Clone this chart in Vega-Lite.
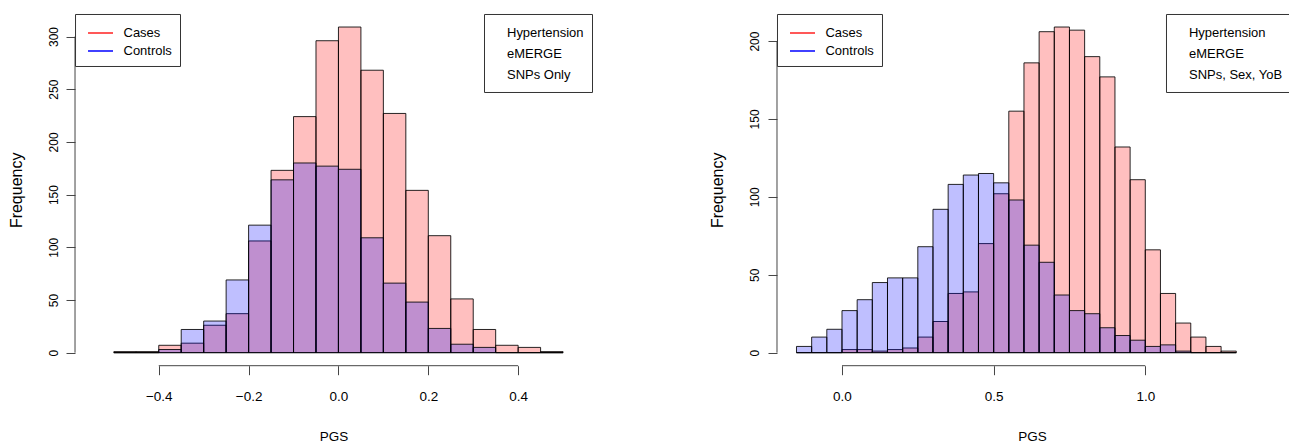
{
  "$schema": "https://vega.github.io/schema/vega-lite/v6.json",
  "background": "white",
  "padding": {"left": 8, "top": 13, "right": 0, "bottom": 0},
  "spacing": 117,
  "datasets": {
    "left": [
      {"group": "Cases", "x0": -0.50, "x1": -0.45, "count": 1},
      {"group": "Cases", "x0": -0.45, "x1": -0.40, "count": 1},
      {"group": "Cases", "x0": -0.40, "x1": -0.35, "count": 7},
      {"group": "Cases", "x0": -0.35, "x1": -0.30, "count": 9},
      {"group": "Cases", "x0": -0.30, "x1": -0.25, "count": 26},
      {"group": "Cases", "x0": -0.25, "x1": -0.20, "count": 37},
      {"group": "Cases", "x0": -0.20, "x1": -0.15, "count": 106},
      {"group": "Cases", "x0": -0.15, "x1": -0.10, "count": 173},
      {"group": "Cases", "x0": -0.10, "x1": -0.05, "count": 224},
      {"group": "Cases", "x0": -0.05, "x1": 0.00, "count": 296},
      {"group": "Cases", "x0": 0.00, "x1": 0.05, "count": 309},
      {"group": "Cases", "x0": 0.05, "x1": 0.10, "count": 268},
      {"group": "Cases", "x0": 0.10, "x1": 0.15, "count": 227},
      {"group": "Cases", "x0": 0.15, "x1": 0.20, "count": 154},
      {"group": "Cases", "x0": 0.20, "x1": 0.25, "count": 111},
      {"group": "Cases", "x0": 0.25, "x1": 0.30, "count": 51},
      {"group": "Cases", "x0": 0.30, "x1": 0.35, "count": 22},
      {"group": "Cases", "x0": 0.35, "x1": 0.40, "count": 7},
      {"group": "Cases", "x0": 0.40, "x1": 0.45, "count": 5},
      {"group": "Cases", "x0": 0.45, "x1": 0.50, "count": 1},
      {"group": "Controls", "x0": -0.50, "x1": -0.45, "count": 0},
      {"group": "Controls", "x0": -0.45, "x1": -0.40, "count": 0},
      {"group": "Controls", "x0": -0.40, "x1": -0.35, "count": 3},
      {"group": "Controls", "x0": -0.35, "x1": -0.30, "count": 22},
      {"group": "Controls", "x0": -0.30, "x1": -0.25, "count": 30},
      {"group": "Controls", "x0": -0.25, "x1": -0.20, "count": 69},
      {"group": "Controls", "x0": -0.20, "x1": -0.15, "count": 121},
      {"group": "Controls", "x0": -0.15, "x1": -0.10, "count": 164},
      {"group": "Controls", "x0": -0.10, "x1": -0.05, "count": 180},
      {"group": "Controls", "x0": -0.05, "x1": 0.00, "count": 177},
      {"group": "Controls", "x0": 0.00, "x1": 0.05, "count": 174},
      {"group": "Controls", "x0": 0.05, "x1": 0.10, "count": 109},
      {"group": "Controls", "x0": 0.10, "x1": 0.15, "count": 66},
      {"group": "Controls", "x0": 0.15, "x1": 0.20, "count": 48},
      {"group": "Controls", "x0": 0.20, "x1": 0.25, "count": 23},
      {"group": "Controls", "x0": 0.25, "x1": 0.30, "count": 8},
      {"group": "Controls", "x0": 0.30, "x1": 0.35, "count": 5},
      {"group": "Controls", "x0": 0.35, "x1": 0.40, "count": 0},
      {"group": "Controls", "x0": 0.40, "x1": 0.45, "count": 0},
      {"group": "Controls", "x0": 0.45, "x1": 0.50, "count": 0}
    ],
    "right": [
      {"group": "Cases", "x0": -0.15, "x1": -0.10, "count": 0},
      {"group": "Cases", "x0": -0.10, "x1": -0.05, "count": 0},
      {"group": "Cases", "x0": -0.05, "x1": 0.00, "count": 0},
      {"group": "Cases", "x0": 0.00, "x1": 0.05, "count": 2},
      {"group": "Cases", "x0": 0.05, "x1": 0.10, "count": 2},
      {"group": "Cases", "x0": 0.10, "x1": 0.15, "count": 1},
      {"group": "Cases", "x0": 0.15, "x1": 0.20, "count": 2},
      {"group": "Cases", "x0": 0.20, "x1": 0.25, "count": 3},
      {"group": "Cases", "x0": 0.25, "x1": 0.30, "count": 10},
      {"group": "Cases", "x0": 0.30, "x1": 0.35, "count": 20},
      {"group": "Cases", "x0": 0.35, "x1": 0.40, "count": 38},
      {"group": "Cases", "x0": 0.40, "x1": 0.45, "count": 39},
      {"group": "Cases", "x0": 0.45, "x1": 0.50, "count": 70},
      {"group": "Cases", "x0": 0.50, "x1": 0.55, "count": 102},
      {"group": "Cases", "x0": 0.55, "x1": 0.60, "count": 155},
      {"group": "Cases", "x0": 0.60, "x1": 0.65, "count": 186},
      {"group": "Cases", "x0": 0.65, "x1": 0.70, "count": 206},
      {"group": "Cases", "x0": 0.70, "x1": 0.75, "count": 209},
      {"group": "Cases", "x0": 0.75, "x1": 0.80, "count": 207},
      {"group": "Cases", "x0": 0.80, "x1": 0.85, "count": 190},
      {"group": "Cases", "x0": 0.85, "x1": 0.90, "count": 177},
      {"group": "Cases", "x0": 0.90, "x1": 0.95, "count": 132},
      {"group": "Cases", "x0": 0.95, "x1": 1.00, "count": 111},
      {"group": "Cases", "x0": 1.00, "x1": 1.05, "count": 66},
      {"group": "Cases", "x0": 1.05, "x1": 1.10, "count": 38},
      {"group": "Cases", "x0": 1.10, "x1": 1.15, "count": 19},
      {"group": "Cases", "x0": 1.15, "x1": 1.20, "count": 10},
      {"group": "Cases", "x0": 1.20, "x1": 1.25, "count": 4},
      {"group": "Cases", "x0": 1.25, "x1": 1.30, "count": 1},
      {"group": "Controls", "x0": -0.15, "x1": -0.10, "count": 4},
      {"group": "Controls", "x0": -0.10, "x1": -0.05, "count": 10},
      {"group": "Controls", "x0": -0.05, "x1": 0.00, "count": 15},
      {"group": "Controls", "x0": 0.00, "x1": 0.05, "count": 27},
      {"group": "Controls", "x0": 0.05, "x1": 0.10, "count": 34},
      {"group": "Controls", "x0": 0.10, "x1": 0.15, "count": 45},
      {"group": "Controls", "x0": 0.15, "x1": 0.20, "count": 48},
      {"group": "Controls", "x0": 0.20, "x1": 0.25, "count": 48},
      {"group": "Controls", "x0": 0.25, "x1": 0.30, "count": 68},
      {"group": "Controls", "x0": 0.30, "x1": 0.35, "count": 92},
      {"group": "Controls", "x0": 0.35, "x1": 0.40, "count": 108},
      {"group": "Controls", "x0": 0.40, "x1": 0.45, "count": 114},
      {"group": "Controls", "x0": 0.45, "x1": 0.50, "count": 115},
      {"group": "Controls", "x0": 0.50, "x1": 0.55, "count": 109},
      {"group": "Controls", "x0": 0.55, "x1": 0.60, "count": 98},
      {"group": "Controls", "x0": 0.60, "x1": 0.65, "count": 69},
      {"group": "Controls", "x0": 0.65, "x1": 0.70, "count": 58},
      {"group": "Controls", "x0": 0.70, "x1": 0.75, "count": 37},
      {"group": "Controls", "x0": 0.75, "x1": 0.80, "count": 27},
      {"group": "Controls", "x0": 0.80, "x1": 0.85, "count": 25},
      {"group": "Controls", "x0": 0.85, "x1": 0.90, "count": 16},
      {"group": "Controls", "x0": 0.90, "x1": 0.95, "count": 11},
      {"group": "Controls", "x0": 0.95, "x1": 1.00, "count": 8},
      {"group": "Controls", "x0": 1.00, "x1": 1.05, "count": 4},
      {"group": "Controls", "x0": 1.05, "x1": 1.10, "count": 5},
      {"group": "Controls", "x0": 1.10, "x1": 1.15, "count": 1},
      {"group": "Controls", "x0": 1.15, "x1": 1.20, "count": 0},
      {"group": "Controls", "x0": 1.20, "x1": 1.25, "count": 0},
      {"group": "Controls", "x0": 1.25, "x1": 1.30, "count": 0}
    ],
    "notesL": [{"note": "Hypertension"}, {"note": "eMERGE"}, {"note": "SNPs Only"}],
    "notesR": [{"note": "Hypertension"}, {"note": "eMERGE"}, {"note": "SNPs, Sex, YoB"}]
  },
  "config": {
    "view": {"stroke": null},
    "axis": {"grid": false, "domain": false, "tickColor": "#444", "tickSize": 9, "tickWidth": 1, "labelColor": "#000", "titleColor": "#000", "labelFlush": false, "titleFontWeight": "normal", "labelFont": "Liberation Sans, Arial, sans-serif", "titleFont": "Liberation Sans, Arial, sans-serif"},
    "axisX": {"labelFontSize": 13.5, "labelPadding": 15, "titleFontSize": 13.5, "titlePadding": 26},
    "axisY": {"labelAngle": 270, "labelAlign": "center", "labelBaseline": "bottom", "labelFontSize": 12, "labelPadding": 6, "titleFontSize": 16, "titlePadding": 23},
    "legend": {"labelFont": "Liberation Sans, Arial, sans-serif", "labelFontSize": 13, "labelColor": "#000", "strokeColor": "#333", "fillColor": "#fff", "orient": "none", "direction": "vertical", "padding": 8, "rowPadding": 0, "symbolSize": 400, "title": null}
  },
  "resolve": {
    "scale": {"fill": "independent", "stroke": "independent", "shape": "independent"},
    "legend": {"fill": "independent", "stroke": "independent", "shape": "independent"}
  },
  "hconcat": [
    {
      "width": 517,
      "height": 351.7,
      "layer": [
        {
          "data": {"name": "left"},
          "mark": {"type": "bar", "fillOpacity": 0.25, "stroke": "#000", "strokeWidth": 1, "strokeOpacity": 0.85},
          "encoding": {
            "x": {"field": "x0", "type": "quantitative", "scale": {"domain": [-0.5864, 0.5644], "nice": false, "zero": false}, "axis": {"values": [-0.4, -0.2, 0, 0.2, 0.4], "format": ".1f", "title": "PGS"}},
            "x2": {"field": "x1"},
            "y": {"field": "count", "type": "quantitative", "stack": null, "scale": {"domain": [-12.36, 321.36], "nice": false, "zero": false}, "axis": {"values": [0, 50, 100, 150, 200, 250, 300], "format": "d", "title": "Frequency"}},
            "y2": {"datum": 0},
            "fill": {"field": "group", "type": "nominal", "scale": {"domain": ["Controls", "Cases"], "range": ["#0000ff", "#ff0000"]}, "legend": null}
          }
        },
        {
          "data": {"name": "left"},
          "transform": [{"filter": "datum.count < 0"}],
          "mark": {"type": "line", "strokeWidth": 1.5},
          "encoding": {
            "x": {"field": "x0", "type": "quantitative", "scale": {"domain": [-0.5864, 0.5644], "nice": false, "zero": false}, "axis": {"values": [-0.4, -0.2, 0, 0.2, 0.4], "format": ".1f", "title": "PGS"}},
            "y": {"field": "count", "type": "quantitative", "scale": {"domain": [-12.36, 321.36], "nice": false, "zero": false}, "axis": {"values": [0, 50, 100, 150, 200, 250, 300], "format": "d", "title": "Frequency"}},
            "stroke": {"field": "group", "type": "nominal", "scale": {"domain": ["Cases", "Controls"], "range": ["#ff2020", "#0000ff"]},
              "legend": {"title": null, "legendX": 0, "legendY": 0, "symbolType": "M-0.6,0H1.9", "symbolStrokeWidth": 1.5, "symbolOpacity": 1, "labelOffset": 18.5}}
          }
        },
        {
          "data": {"name": "notesL"},
          "transform": [{"filter": "datum.note == 'none'"}],
          "mark": {"type": "point", "opacity": 0},
          "encoding": {
            "shape": {"field": "note", "type": "nominal", "scale": {"domain": ["Hypertension", "eMERGE", "SNPs Only"]},
              "legend": {"title": null, "legendX": 409, "legendY": 0, "symbolOpacity": 0, "labelOffset": -7}}
          }
        },
        {
          "data": {"values": [{}]},
          "mark": {"type": "rule", "color": "#444", "strokeWidth": 1},
          "encoding": {
            "x": {"datum": -0.5864, "type": "quantitative", "scale": {"domain": [-0.5864, 0.5644], "nice": false, "zero": false}, "axis": {"values": [-0.4, -0.2, 0, 0.2, 0.4], "format": ".1f", "title": "PGS"}},
            "y": {"datum": 0, "type": "quantitative", "scale": {"domain": [-12.36, 321.36], "nice": false, "zero": false}, "axis": {"values": [0, 50, 100, 150, 200, 250, 300], "format": "d", "title": "Frequency"}},
            "y2": {"datum": 300}
          }
        },
        {
          "data": {"values": [{}]},
          "mark": {"type": "rule", "color": "#444", "strokeWidth": 1},
          "encoding": {
            "x": {"datum": -0.4, "type": "quantitative", "scale": {"domain": [-0.5864, 0.5644], "nice": false, "zero": false}, "axis": {"values": [-0.4, -0.2, 0, 0.2, 0.4], "format": ".1f", "title": "PGS"}},
            "x2": {"datum": 0.4},
            "y": {"datum": -12.36, "type": "quantitative", "scale": {"domain": [-12.36, 321.36], "nice": false, "zero": false}, "axis": {"values": [0, 50, 100, 150, 200, 250, 300], "format": "d", "title": "Frequency"}}
          }
        }
      ]
    },
    {
      "width": 510,
      "height": 351.7,
      "layer": [
        {
          "data": {"name": "right"},
          "mark": {"type": "bar", "fillOpacity": 0.25, "stroke": "#000", "strokeWidth": 1, "strokeOpacity": 0.85},
          "encoding": {
            "x": {"field": "x0", "type": "quantitative", "scale": {"domain": [-0.2143, 1.4672], "nice": false, "zero": false}, "axis": {"values": [0, 0.5, 1], "format": ".1f", "title": "PGS"}},
            "x2": {"field": "x1"},
            "y": {"field": "count", "type": "quantitative", "stack": null, "scale": {"domain": [-8.36, 217.36], "nice": false, "zero": false}, "axis": {"values": [0, 50, 100, 150, 200], "format": "d", "title": "Frequency"}},
            "y2": {"datum": 0},
            "fill": {"field": "group", "type": "nominal", "scale": {"domain": ["Controls", "Cases"], "range": ["#0000ff", "#ff0000"]}, "legend": null}
          }
        },
        {
          "data": {"name": "right"},
          "transform": [{"filter": "datum.count < 0"}],
          "mark": {"type": "line", "strokeWidth": 1.5},
          "encoding": {
            "x": {"field": "x0", "type": "quantitative", "scale": {"domain": [-0.2143, 1.4672], "nice": false, "zero": false}, "axis": {"values": [0, 0.5, 1], "format": ".1f", "title": "PGS"}},
            "y": {"field": "count", "type": "quantitative", "scale": {"domain": [-8.36, 217.36], "nice": false, "zero": false}, "axis": {"values": [0, 50, 100, 150, 200], "format": "d", "title": "Frequency"}},
            "stroke": {"field": "group", "type": "nominal", "scale": {"domain": ["Cases", "Controls"], "range": ["#ff2020", "#0000ff"]},
              "legend": {"title": null, "legendX": 0, "legendY": 0, "symbolType": "M-0.6,0H1.9", "symbolStrokeWidth": 1.5, "symbolOpacity": 1, "labelOffset": 18.5}}
          }
        },
        {
          "data": {"name": "notesR"},
          "transform": [{"filter": "datum.note == 'none'"}],
          "mark": {"type": "point", "opacity": 0},
          "encoding": {
            "shape": {"field": "note", "type": "nominal", "scale": {"domain": ["Hypertension", "eMERGE", "SNPs, Sex, YoB"]},
              "legend": {"title": null, "legendX": 389, "legendY": 0, "symbolOpacity": 0, "labelOffset": -7}}
          }
        },
        {
          "data": {"values": [{}]},
          "mark": {"type": "rule", "color": "#444", "strokeWidth": 1},
          "encoding": {
            "x": {"datum": -0.2143, "type": "quantitative", "scale": {"domain": [-0.2143, 1.4672], "nice": false, "zero": false}, "axis": {"values": [0, 0.5, 1], "format": ".1f", "title": "PGS"}},
            "y": {"datum": 0, "type": "quantitative", "scale": {"domain": [-8.36, 217.36], "nice": false, "zero": false}, "axis": {"values": [0, 50, 100, 150, 200], "format": "d", "title": "Frequency"}},
            "y2": {"datum": 200}
          }
        },
        {
          "data": {"values": [{}]},
          "mark": {"type": "rule", "color": "#444", "strokeWidth": 1},
          "encoding": {
            "x": {"datum": 0, "type": "quantitative", "scale": {"domain": [-0.2143, 1.4672], "nice": false, "zero": false}, "axis": {"values": [0, 0.5, 1], "format": ".1f", "title": "PGS"}},
            "x2": {"datum": 1},
            "y": {"datum": -8.36, "type": "quantitative", "scale": {"domain": [-8.36, 217.36], "nice": false, "zero": false}, "axis": {"values": [0, 50, 100, 150, 200], "format": "d", "title": "Frequency"}}
          }
        }
      ]
    }
  ]
}
